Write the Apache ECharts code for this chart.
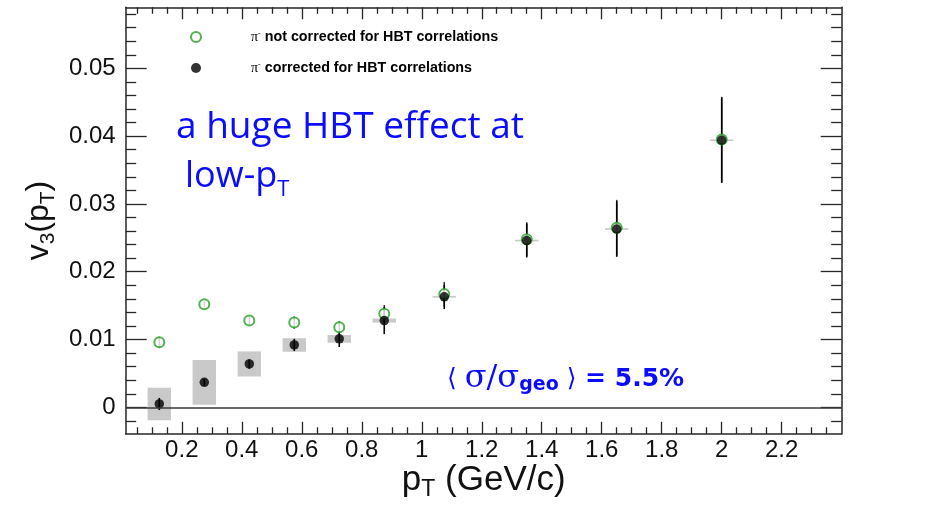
<!DOCTYPE html>
<html>
<head>
<meta charset="utf-8">
<script src="https://cdn.jsdelivr.net/npm/echarts@6/dist/echarts.min.js"></script>
<style>
html,body{margin:0;padding:0;background:#fff;}
#c{width:942px;height:505px;}
</style>
</head>
<body>
<div id="c"></div>
<script>
// ---- data ----
const ptValues   = [0.125, 0.275, 0.425, 0.575, 0.725, 0.875, 1.075, 1.35, 1.65, 2.0];
const v3Corr     = [0.0005, 0.0037, 0.0064, 0.0092, 0.0101, 0.0128, 0.0163, 0.0246, 0.0263, 0.0394];
const errCorr    = [0.0009, 0.0005, 0.0007, 0.0009, 0.0012, 0.0020, 0.0018, 0.0025, 0.0041, 0.0063];
const sysCorr    = [0.0024, 0.0033, 0.00185, 0.0010, 0.00057, 0.0003, 0.00012, 0.00012, 0.00012, 0.00012];
const v3Raw      = [0.0096, 0.0152, 0.0128, 0.0125, 0.0118, 0.0138, 0.0167, 0.0248, 0.0265, 0.0395];
const errRaw     = [0.0008, 0.0004, 0.0006, 0.0009, 0.0009, 0.0013, 0.0018, 0.0025, 0.0041, 0.0063];

// ---- axis ticks / labels ----
const xMajorTicks = [0.2, 0.4, 0.6, 0.8, 1.0, 1.2, 1.4, 1.6, 1.8, 2.0, 2.2];
const yMajorTicks = [0, 0.01, 0.02, 0.03, 0.04, 0.05];
const xMinorStep = 0.05, xMinorFrom = 0.05, xMinorTo = 2.35;
const yMinorStep = 0.002, yMinorFrom = -0.002, yMinorTo = 0.058;

const legendNames = {
  raw: ' not corrected for HBT correlations',
  corr: ' corrected for HBT correlations'
};

// ---- layout ----
const X_MIN = 0.013, X_MAX = 2.4, Y_MIN = -0.0039, Y_MAX = 0.059;
const SYS_HALF_WIDTH = 0.039;

function minorTicks(from, to, step, majors) {
  const out = [];
  const n = Math.round((to - from) / step);
  for (let i = 0; i <= n; i++) {
    const v = Math.round((from + i * step) * 1e6) / 1e6;
    if (!majors.some(m => Math.abs(m - v) < step / 10)) out.push(v);
  }
  return out;
}
const xMinorTicks = minorTicks(xMinorFrom, xMinorTo, xMinorStep, xMajorTicks);
const yMinorTicks = minorTicks(yMinorFrom, yMinorTo, yMinorStep, yMajorTicks);

const FRAME = '#262626';
const GREEN = '#24a024';
const BLUE = '#0b0bff';
const frameLine = {color: FRAME, width: 1.5};
const tickLine = {color: FRAME, width: 1.3};

function xAxisDef(pos, ticks, len, main) {
  return {
    type: 'value', position: pos, min: X_MIN, max: X_MAX,
    axisLine: {show: main, onZero: false, lineStyle: frameLine},
    axisTick: {show: true, inside: true, length: len, customValues: ticks, lineStyle: tickLine},
    axisLabel: {show: false},
    splitLine: {show: false}
  };
}
function yAxisDef(pos, ticks, len, main) {
  return {
    type: 'value', position: pos, min: Y_MIN, max: Y_MAX,
    axisLine: {show: main, onZero: false, lineStyle: frameLine},
    axisTick: {show: true, inside: true, length: len, customValues: ticks, lineStyle: tickLine},
    axisLabel: {show: false},
    splitLine: {show: false}
  };
}

const xBottom = xAxisDef('bottom', xMajorTicks, 12, true);
xBottom.axisLabel = {
  show: true, customValues: xMajorTicks, margin: 5,
  fontFamily: 'Liberation Sans', fontSize: 24, color: '#111',
  formatter: v => String(v)
};
xBottom.name = '{m|p}{s|T}{m| (GeV/c)}';
xBottom.nameLocation = 'middle';
xBottom.nameGap = 27;
xBottom.nameMoveOverlap = false;
xBottom.nameTextStyle = {
  rich: {
    m: {fontFamily: 'Liberation Sans', fontSize: 35, color: '#111', lineHeight: 40},
    s: {fontFamily: 'Liberation Sans', fontSize: 23, color: '#111', lineHeight: 22, verticalAlign: 'bottom'}
  }
};

const yLeft = yAxisDef('left', yMajorTicks, 21, true);
yLeft.axisLabel = {
  show: true, customValues: yMajorTicks, margin: 10,
  fontFamily: 'Liberation Sans', fontSize: 24, color: '#111'
};
yLeft.name = '{m|v}{s|3}{m|(p}{s|T}{m|)}';
yLeft.nameLocation = 'middle';
yLeft.nameGap = 67;
yLeft.nameMoveOverlap = false;
yLeft.nameTextStyle = {
  rich: {
    m: {fontFamily: 'Liberation Sans', fontSize: 32, color: '#111', lineHeight: 40},
    s: {fontFamily: 'Liberation Sans', fontSize: 21, color: '#111', lineHeight: 22, verticalAlign: 'bottom'}
  }
};

const option = {
  animation: false,
  backgroundColor: '#fff',
  grid: {left: 125.7, top: 7.3, width: 716, height: 426.5, containLabel: false, outerBoundsMode: 'none'},
  xAxis: [
    xBottom,
    xAxisDef('bottom', xMinorTicks, 6.5, false),
    xAxisDef('top', xMajorTicks, 12, true),
    xAxisDef('top', xMinorTicks, 6.5, false)
  ],
  yAxis: [
    yLeft,
    yAxisDef('left', yMinorTicks, 10.5, false),
    yAxisDef('right', yMajorTicks, 21, true),
    yAxisDef('right', yMinorTicks, 10.5, false)
  ],
  legend: {
    data: ['raw', 'corr'],
    orient: 'vertical',
    left: 185, top: 24, padding: 5,
    itemWidth: 10, itemHeight: 10, itemGap: 16,
    selectedMode: false,
    formatter: n => '{pi|π}{sup|-}{t|' + legendNames[n] + '}',
    textStyle: {
      padding: [0, 0, 0, 45],
      rich: {
        pi: {fontFamily: 'Liberation Serif', fontSize: 14, color: '#000', lineHeight: 16},
        sup: {fontFamily: 'Liberation Sans', fontSize: 8, color: '#000', lineHeight: 10, verticalAlign: 'top'},
        t: {fontFamily: 'Liberation Sans', fontWeight: 'bold', fontSize: 14.3, color: '#000', lineHeight: 16}
      }
    }
  },
  graphic: [
    {
      type: 'text', z: 100,
      style: {
        x: 176, y: 127.5, align: 'left', verticalAlign: 'middle',
        text: 'a huge HBT effect at',
        font: '37px "Open Sans"', fill: BLUE
      }
    },
    {
      type: 'text', z: 100,
      style: {
        x: 185, y: 176.5, align: 'left', verticalAlign: 'middle',
        text: '{m|low-p}{s|T}',
        fill: BLUE,
        rich: {
          m: {fontFamily: 'Open Sans', fontSize: 36, lineHeight: 48, fill: BLUE, color: BLUE},
          s: {fontFamily: 'Open Sans', fontSize: 22, lineHeight: 22, verticalAlign: 'bottom', fill: BLUE, color: BLUE}
        }
      }
    },
    {
      type: 'text', z: 100,
      style: {
        x: 447, y: 379, align: 'left', verticalAlign: 'middle',
        text: '{a|⟨ }{g|σ/σ}{s|geo}{a| ⟩}{b| = 5.5%}',
        fill: BLUE,
        rich: {
          a: {fontFamily: 'DejaVu Sans', fontSize: 25, lineHeight: 32, fill: BLUE, color: BLUE},
          g: {fontFamily: 'DejaVu Serif', fontSize: 32, lineHeight: 32, fill: BLUE, color: BLUE},
          s: {fontFamily: 'DejaVu Sans', fontWeight: 'bold', fontSize: 19, lineHeight: 18, verticalAlign: 'bottom', fill: BLUE, color: BLUE},
          b: {fontFamily: 'DejaVu Sans', fontWeight: 'bold', fontSize: 25, lineHeight: 32, fill: BLUE, color: BLUE}
        }
      }
    }
  ],
  series: [
    {
      name: 'sys', type: 'custom', xAxisIndex: 0, yAxisIndex: 0, silent: true,
      data: ptValues.map((p, i) => [p, v3Corr[i] - sysCorr[i], v3Corr[i] + sysCorr[i]]),
      encode: {x: 0, y: [1, 2]},
      renderItem: (params, api) => {
        const x = api.value(0), lo = api.value(1), hi = api.value(2);
        const a = api.coord([x - SYS_HALF_WIDTH, hi]);
        const b = api.coord([x + SYS_HALF_WIDTH, lo]);
        return {
          type: 'rect',
          shape: {x: a[0], y: a[1], width: b[0] - a[0], height: Math.max(b[1] - a[1], 1.5)},
          style: {fill: '#c9c9c9'}
        };
      },
      markLine: {
        silent: true, symbol: 'none', animation: false,
        label: {show: false},
        lineStyle: {color: '#3a3a3a', width: 1.5, type: 'solid'},
        data: [{yAxis: 0}]
      }
    },
    {
      name: 'errRaw', type: 'custom', xAxisIndex: 0, yAxisIndex: 0, silent: true,
      data: ptValues.map((p, i) => [p, v3Raw[i] - errRaw[i], v3Raw[i] + errRaw[i]]),
      encode: {x: 0, y: [1, 2]},
      renderItem: (params, api) => {
        const a = api.coord([api.value(0), api.value(2)]);
        const b = api.coord([api.value(0), api.value(1)]);
        return {type: 'line', shape: {x1: a[0], y1: a[1], x2: b[0], y2: b[1]},
                style: {stroke: '#333', lineWidth: 1.5}};
      }
    },
    {
      name: 'raw', type: 'scatter', xAxisIndex: 0, yAxisIndex: 0,
      symbol: 'emptyCircle', symbolSize: 10,
      itemStyle: {color: GREEN, borderColor: GREEN, borderWidth: 1.5},
      data: ptValues.map((p, i) => [p, v3Raw[i]])
    },
    {
      name: 'errCorr', type: 'custom', xAxisIndex: 0, yAxisIndex: 0, silent: true,
      data: ptValues.map((p, i) => [p, v3Corr[i] - errCorr[i], v3Corr[i] + errCorr[i]]),
      encode: {x: 0, y: [1, 2]},
      renderItem: (params, api) => {
        const a = api.coord([api.value(0), api.value(2)]);
        const b = api.coord([api.value(0), api.value(1)]);
        return {type: 'line', shape: {x1: a[0], y1: a[1], x2: b[0], y2: b[1]},
                style: {stroke: '#000', lineWidth: 1.6}};
      }
    },
    {
      name: 'corr', type: 'scatter', xAxisIndex: 0, yAxisIndex: 0,
      symbol: 'circle', symbolSize: 9.5,
      itemStyle: {color: '#000'},
      data: ptValues.map((p, i) => [p, v3Corr[i]])
    }
  ]
};

const chart = echarts.init(document.getElementById('c'));
chart.setOption(option);
</script>
</body>
</html>
